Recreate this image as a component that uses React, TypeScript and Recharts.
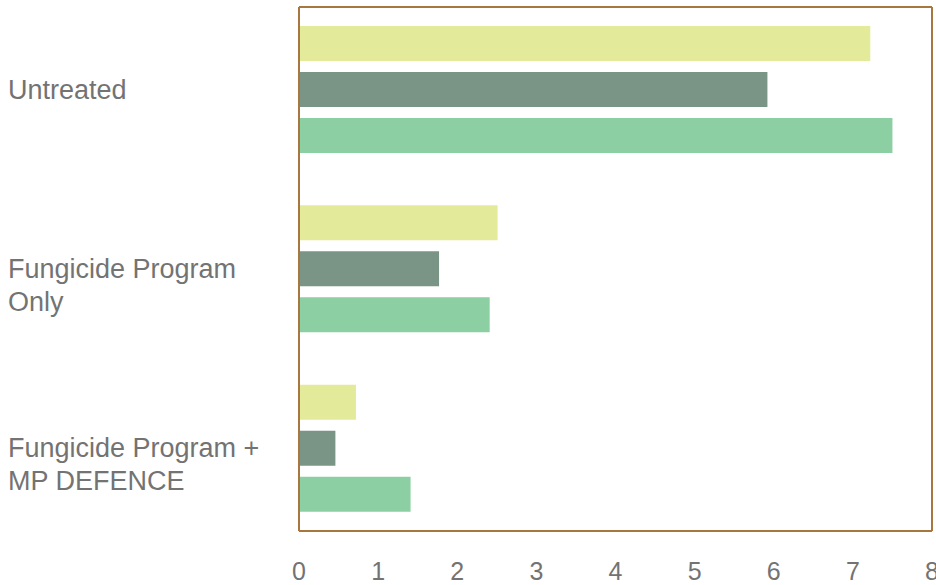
import { Bar, BarChart, XAxis, YAxis } from 'recharts';

const categories = ['Untreated', 'Fungicide Program\nOnly', 'Fungicide Program +\nMP DEFENCE'];
const series1 = [7.22, 2.51, 0.72];
const series2 = [5.92, 1.77, 0.46];
const series3 = [7.5, 2.41, 1.41];
const xTicks = [0, 1, 2, 3, 4, 5, 6, 7, 8];

const data = categories.map((name, i) => ({
  name,
  s1: series1[i],
  s2: series2[i],
  s3: series3[i],
}));

const border = '#a8773f';
const textColor = '#737373';
const font = '"Liberation Sans", Arial, sans-serif';

const CategoryTick = (props: any) => {
  const { y, payload } = props;
  const lines = String(payload.value).split('\n');
  return (
    <text x={8} y={y} fill={textColor} fontSize={27} fontFamily={font} textAnchor="start">
      {lines.map((line, i) => (
        <tspan key={i} x={8} dy={i === 0 ? 9 : 33}>
          {line}
        </tspan>
      ))}
    </text>
  );
};

export default function App() {
  return (
    <div style={{ position: 'absolute', left: 0, top: 0, background: '#fff' }}>
      <BarChart
        width={936}
        height={585}
        data={data}
        layout="vertical"
        margin={{ top: 6, right: 3, left: 0, bottom: 0 }}
        barGap={11}
        barSize={35}
      >
        <XAxis
          type="number"
          domain={[0, 8]}
          ticks={xTicks}
          interval={0}
          height={54}
          tickLine={false}
          tickSize={0}
          tickMargin={31}
          axisLine={{ stroke: border, strokeWidth: 2 }}
          tick={{ fontSize: 25, fill: textColor, fontFamily: font }}
        />
        <XAxis
          xAxisId="top"
          type="number"
          domain={[0, 8]}
          orientation="top"
          height={1}
          tick={false}
          tickLine={false}
          axisLine={{ stroke: border, strokeWidth: 2 }}
        />
        <YAxis
          type="category"
          dataKey="name"
          width={299}
          padding={{ top: -7, bottom: -7 }}
          tickLine={false}
          axisLine={{ stroke: border, strokeWidth: 2 }}
          tick={<CategoryTick />}
        />
        <YAxis
          yAxisId="right"
          type="category"
          dataKey="name"
          orientation="right"
          width={1}
          tick={false}
          tickLine={false}
          axisLine={{ stroke: border, strokeWidth: 2 }}
        />
        <Bar dataKey="s1" fill="#e3eb9b" isAnimationActive={false} />
        <Bar dataKey="s2" fill="#7a9585" isAnimationActive={false} />
        <Bar dataKey="s3" fill="#8ccfa3" isAnimationActive={false} />
      </BarChart>
    </div>
  );
}
